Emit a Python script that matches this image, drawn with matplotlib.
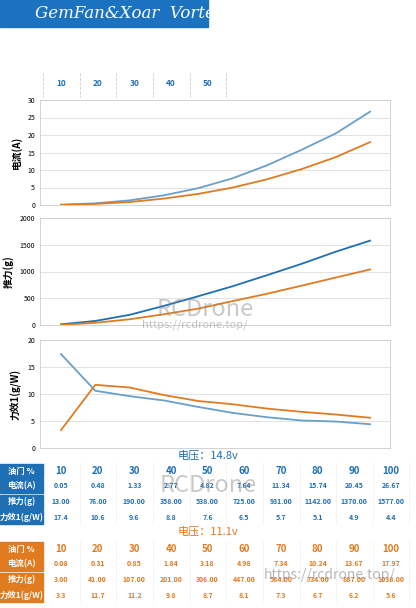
import matplotlib
matplotlib.use("Agg")
import matplotlib.pyplot as plt
from matplotlib.patches import Rectangle

plt.rcParams['font.family'] = ['Noto Sans CJK SC', 'DejaVu Sans']

throttle = [10, 20, 30, 40, 50, 60, 70, 80, 90, 100]
cur_148 = [0.05, 0.48, 1.33, 2.77, 4.82, 7.64, 11.34, 15.74, 20.45, 26.67]
thr_148 = [13.00, 76.00, 190.00, 358.00, 538.00, 725.00, 931.00, 1142.00, 1370.00, 1577.00]
eff_148 = [17.4, 10.6, 9.6, 8.8, 7.6, 6.5, 5.7, 5.1, 4.9, 4.4]
cur_111 = [0.08, 0.31, 0.85, 1.84, 3.18, 4.98, 7.34, 10.24, 13.67, 17.97]
thr_111 = [3.00, 41.00, 107.00, 201.00, 306.00, 447.00, 584.00, 734.00, 887.00, 1038.00]
eff_111 = [3.3, 11.7, 11.2, 9.8, 8.7, 8.1, 7.3, 6.7, 6.2, 5.6]
row_labels = ['油门 %', '电流(A)', '推力(g)', '力效1(g/W)']

BLUE = '#1f6fb4'
LBLUE = '#6a9fc8'
ORANGE = '#e07b20'
W, H = 416, 608
fig = plt.figure(figsize=(W/100, H/100), dpi=100)

def ax_px(l, t, r, b):
    return fig.add_axes([l/W, 1-b/H, (r-l)/W, (b-t)/H])

XL = (3.9, 105.8)
panels = [((100, 205), cur_148, cur_111, (0, 30), [0, 5, 10, 15, 20, 25, 30], '电流(A)'),
          ((218, 325), thr_148, thr_111, (0, 2000), [0, 500, 1000, 1500, 2000], '推力(g)'),
          ((340, 448), eff_148, eff_111, (0, 20), [0, 5, 10, 15, 20], '力效1(g/W)')]
for (t, b), s1, s2, yl, yt, lab in panels:
    ax = ax_px(40, t, 390, b)
    ax.plot(throttle, s1, color=LBLUE if lab != '推力(g)' else BLUE, lw=1.3)
    ax.plot(throttle, s2, color=ORANGE, lw=1.3)
    ax.set_xlim(*XL); ax.set_ylim(*yl); ax.set_yticks(yt)
    ax.set_xticks([])
    ax.grid(axis='y', color='#dddddd', lw=0.6)
    ax.tick_params(axis='y', labelsize=5, length=0)
    for s in ax.spines.values():
        s.set_color('#cccccc'); s.set_linewidth(0.6)
    ax.set_ylabel(lab, fontsize=7, fontweight='bold')

ov = fig.add_axes([0, 0, 1, 1]); ov.set_xlim(0, W); ov.set_ylim(H, 0); ov.axis('off')
ov.add_patch(Rectangle((0, 0), 208, 27, color='#1a72c0'))
ov.text(35, 13, 'GemFan&Xoar  Vortex', color='white', fontsize=12, style='italic',
        family='DejaVu Serif', va='center')
colx = [61 + 36.65*i for i in range(10)]
for i, v in enumerate(throttle[:5]):
    ov.text(colx[i], 83, str(v), color=BLUE, fontsize=6, ha='center', va='center', fontweight='bold')
for i in range(6):
    ov.plot([43 + 36.65*i]*2, [73, 97], color='#cccccc', ls='--', lw=0.6)

def table(y0, title, col, rows, title_y):
    ov.text(208, title_y, title, color=col, fontsize=8, ha='center', va='center')
    ys = [y0, y0+15, y0+30.5, y0+46]
    for j, (lab, y) in enumerate(zip(row_labels, ys)):
        ov.add_patch(Rectangle((0, y-7), 43, 14, color=col))
        ov.text(21.5, y, lab, color='white', fontsize=6 if j else 6, ha='center', va='center', fontweight='bold')
        vals = rows[j]
        for i, v in enumerate(vals):
            if j == 0:
                s, fs = str(v), 7
            elif j == 2:
                s, fs = f'{v:.2f}', 5
            elif j == 3:
                s, fs = f'{v:.1f}', 5
            else:
                s, fs = f'{v:.2f}', 5
            ov.text(colx[i], y, s, color=col, fontsize=fs, ha='center', va='center', fontweight='bold')
    for i in range(10):
        ov.plot([43 + 36.65*i + 36.65]*2, [y0-8, y0+54], color='#dddddd', ls=':', lw=0.6)

table(471, '电压：14.8v', BLUE, [throttle, cur_148, thr_148, eff_148], 456)
table(549, '电压：11.1v', ORANGE, [throttle, cur_111, thr_111, eff_111], 532)

ov.text(205, 310, 'RCDrone', color='#888888', alpha=0.45, fontsize=17, ha='center', va='center')
ov.text(195, 325, 'https://rcdrone.top/', color='#888888', alpha=0.5, fontsize=8, ha='center', va='center')
ov.text(208, 486, 'RCDrone', color='#888888', alpha=0.45, fontsize=17, ha='center', va='center')
ov.text(330, 575, 'https://rcdrone.top/', color='#888888', alpha=0.6, fontsize=10, ha='center', va='center')

fig.savefig('out.png', dpi=100, facecolor='white')
